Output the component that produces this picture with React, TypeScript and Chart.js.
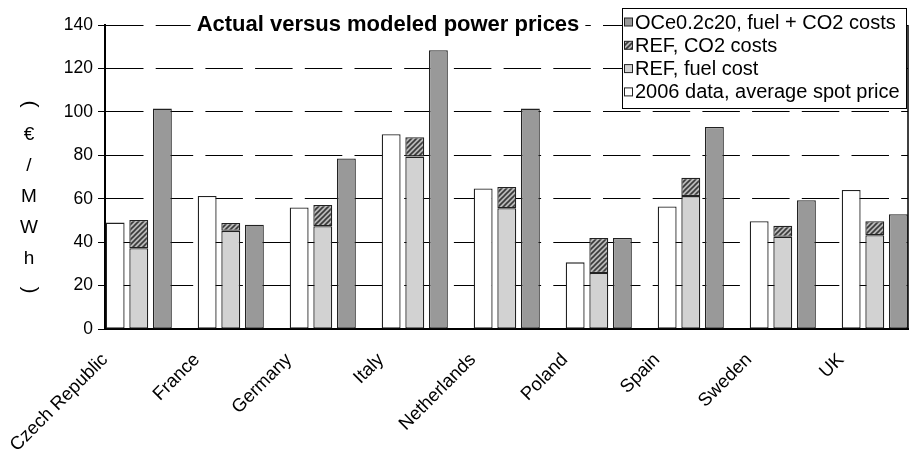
import { useEffect, useRef } from 'react';
import { Chart, registerables } from 'chart.js';

Chart.register(...registerables);

// ---- data ----
const categories = ['Czech Republic', 'France', 'Germany', 'Italy', 'Netherlands', 'Poland', 'Spain', 'Sweden', 'UK'];
const spot2006 = [49, 61.3, 56, 89.7, 64.7, 30.7, 56.4, 49.6, 64];
const refFuel = [37.2, 45.2, 47.3, 79.4, 55.6, 25.8, 61.2, 42.5, 43.2];
const refCO2 = [13, 3.6, 9.8, 8.9, 9.8, 16.1, 8.4, 5, 6.4];
const oceTotal = [101.5, 48, 78.5, 128.4, 101.5, 41.9, 93, 59.3, 52.9];
const seriesNames = [
  '2006 data, average spot price',
  'REF, fuel cost',
  'REF, CO2 costs',
  'OCe0.2c20, fuel + CO2 costs',
];
const yTickValues = [0, 20, 40, 60, 80, 100, 120, 140];
const chartTitle = 'Actual versus modeled power prices';
const yAxisChars = ['(', '€', '/', 'M', 'W', 'h', ')'];

// ---- layout constants ----
const GROUP_OFFSET = 0.367; // groups sit to the right of each category tick
const X_MAX = categories.length - 1 + 0.728;
const FONT = '"Liberation Sans", Arial, sans-serif';

function makeHatch(): CanvasPattern | string {
  const c = document.createElement('canvas');
  c.width = 5;
  c.height = 5;
  const g = c.getContext('2d');
  if (!g) return '#888';
  g.fillStyle = '#b8b8b8';
  g.fillRect(0, 0, 5, 5);
  g.strokeStyle = '#3a3a3a';
  g.lineWidth = 1.6;
  g.beginPath();
  g.moveTo(-1, 6);
  g.lineTo(6, -1);
  g.moveTo(-1, 1);
  g.lineTo(1, -1);
  g.moveTo(4, 6);
  g.lineTo(6, 4);
  g.stroke();
  const p = g.createPattern(c, 'repeat');
  return p || '#888';
}

export default function App() {
  const ref = useRef<HTMLCanvasElement | null>(null);

  useEffect(() => {
    if (!ref.current) return;
    const hatch = makeHatch();
    const toPts = (arr: number[]) => arr.map((v, i) => ({ x: i + GROUP_OFFSET, y: v }));
    const common = {
      borderColor: '#222',
      borderWidth: 1.3,
      borderSkipped: false as const,
      categoryPercentage: 0.77,
      barPercentage: 0.8,
    };

    const overlay = {
      id: 'overlay',
      afterDatasetsDraw(chart: any) {
        const { ctx, chartArea } = chart;
        ctx.save();
        ctx.strokeStyle = '#000';
        ctx.lineWidth = 1.5;
        ctx.beginPath();
        ctx.moveTo(chartArea.right, chartArea.top);
        ctx.lineTo(chartArea.right, chartArea.bottom);
        ctx.stroke();
        ctx.restore();
      },
      afterDraw(chart: any) {
        const { ctx } = chart;
        ctx.save();
        // title
        ctx.font = `bold 22px ${FONT}`;
        const tw = ctx.measureText(chartTitle).width;
        const tx = 388;
        const ty = 25;
        ctx.fillStyle = '#fff';
        ctx.fillRect(tx - tw / 2 - 6, ty - 12, tw + 12, 24);
        ctx.fillStyle = '#000';
        ctx.textAlign = 'center';
        ctx.textBaseline = 'middle';
        ctx.fillText(chartTitle, tx, ty);

        // legend
        const lx = 622, ly = 8, lw = 284, lh = 100;
        ctx.fillStyle = '#fff';
        ctx.fillRect(lx, ly, lw, lh);
        ctx.strokeStyle = '#000';
        ctx.lineWidth = 1;
        ctx.strokeRect(lx + 0.5, ly + 0.5, lw, lh);
        ctx.font = `20px ${FONT}`;
        ctx.textAlign = 'left';
        const ds = chart.data.datasets;
        for (let k = 0; k < ds.length; k++) {
          const d = ds[ds.length - 1 - k];
          const cy = 22 + k * 23.3;
          ctx.fillStyle = d.backgroundColor;
          ctx.fillRect(624.5, cy - 4, 8, 8);
          ctx.strokeStyle = '#222';
          ctx.lineWidth = 1;
          ctx.strokeRect(624.5, cy - 4, 8, 8);
          ctx.fillStyle = '#000';
          ctx.fillText(d.label, 635, cy + 1);
        }

        // y-axis label (stacked characters)
        ctx.font = `19px ${FONT}`;
        ctx.textAlign = 'center';
        ctx.textBaseline = 'middle';
        ctx.fillStyle = '#000';
        yAxisChars.forEach((ch, i) => {
          const cy = 104 + i * 31;
          if (ch === '(' || ch === ')') {
            ctx.save();
            ctx.translate(30, cy);
            ctx.rotate(Math.PI / 2);
            ctx.font = `21px ${FONT}`;
            ctx.fillText(ch, 0, 0);
            ctx.restore();
          } else {
            ctx.fillText(ch, 29, cy);
          }
        });
        ctx.restore();
      },
    };

    const chart = new Chart(ref.current, {
      type: 'bar',
      data: {
        datasets: [
          { label: seriesNames[0], data: toPts(spot2006), backgroundColor: '#ffffff', stack: 'spot', ...common },
          { label: seriesNames[1], data: toPts(refFuel), backgroundColor: '#d2d2d2', stack: 'ref', ...common },
          { label: seriesNames[2], data: toPts(refCO2), backgroundColor: hatch as any, stack: 'ref', ...common },
          { label: seriesNames[3], data: toPts(oceTotal), backgroundColor: '#999999', stack: 'oce', ...common },
        ],
      },
      options: {
        animation: false,
        responsive: true,
        maintainAspectRatio: false,
        layout: { padding: { top: 25, right: 2, left: 0, bottom: 0 } },
        plugins: {
          legend: { display: false },
          tooltip: { enabled: false },
          title: { display: false },
        },
        scales: {
          x: {
            type: 'linear',
            offset: false,
            min: 0,
            max: X_MAX,
            stacked: true,
            afterBuildTicks: (s: any) => {
              s.ticks = categories.map((_, i) => ({ value: i }));
            },
            afterFit: (s: any) => {
              s.height = 128;
              s.paddingLeft = 0;
              s.paddingRight = 0;
            },
            ticks: {
              autoSkip: false,
              minRotation: 45,
              maxRotation: 45,
              padding: 20,
              color: '#000',
              font: { family: FONT, size: 18.5 },
              callback: (v: any) => categories[Math.round(Number(v))] ?? '',
            },
            grid: { display: false, drawTicks: false, offset: false },
            border: { display: true, color: '#000', width: 2 },
          },
          y: {
            min: 0,
            max: 140,
            stacked: true,
            afterBuildTicks: (s: any) => {
              s.ticks = yTickValues.map((v) => ({ value: v }));
            },
            afterFit: (s: any) => {
              s.width = 105;
            },
            ticks: {
              color: '#000',
              padding: 5,
              font: { family: FONT, size: 17.5 },
            },
            grid: { color: '#000', lineWidth: 1, tickLength: 7, tickColor: '#000', drawTicks: true },
            border: { display: true, color: '#000', width: 2, dash: [37.5, 12.2] },
          },
        },
      },
      plugins: [overlay],
    } as any);

    return () => chart.destroy();
  }, []);

  return (
    <div style={{ position: 'fixed', left: 0, top: 0, width: 910, height: 457, background: '#fff' }}>
      <canvas ref={ref} />
    </div>
  );
}
